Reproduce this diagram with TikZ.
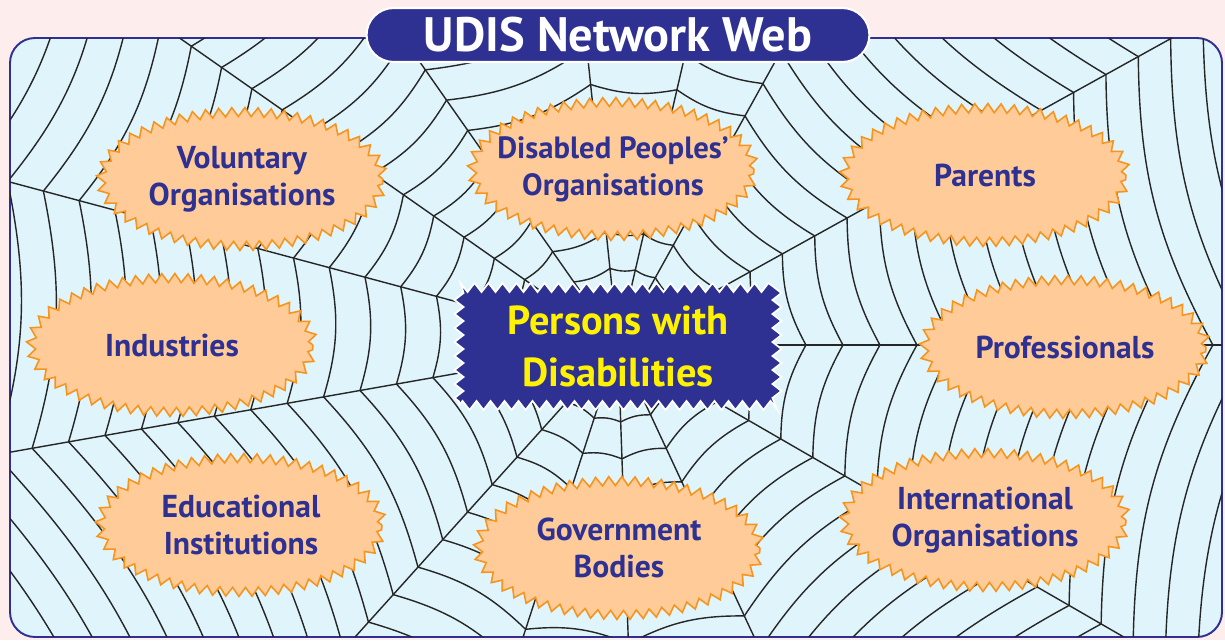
\documentclass[tikz,border=0pt]{standalone}
\usepackage{fontspec}
\setmainfont{PT Sans}
\usetikzlibrary{shapes.geometric,decorations.pathmorphing}
\definecolor{udisblue}{HTML}{2E3192}
\definecolor{webbg}{HTML}{E0F4FB}
\definecolor{pagepink}{HTML}{FDEDED}
\definecolor{peach}{HTML}{FFCC99}
\definecolor{zigorange}{HTML}{F7941D}
\definecolor{pwdyellow}{HTML}{FFF200}
\tikzset{
  member/.style={ellipse, fill=peach, draw=zigorange, line width=0.9pt,
    decorate, decoration={zigzag, segment length=0.26cm, amplitude=0.09cm},
    minimum width=5.64cm, minimum height=2.68cm, inner sep=0pt, align=center,
    text=udisblue, font=\bfseries\fontsize{18}{21}\selectfont},
  pwdbox/.style={rectangle, fill=udisblue, draw=white, line width=1pt,
    decorate, decoration={zigzag, segment length=0.28cm, amplitude=0.09cm},
    minimum width=6.36cm, minimum height=2.36cm, align=center,
    text=pwdyellow, font=\bfseries\fontsize{23}{29.5}\selectfont},
  titlepill/.style={rectangle, rounded corners=0.54cm, fill=udisblue, draw=white,
    line width=1.2pt, minimum width=10.06cm, minimum height=1.08cm,
    text=white, font=\bfseries\fontsize{27.5}{30}\selectfont},
  webline/.style={draw=black!85, line width=0.8pt},
}
\begin{document}
\begin{tikzpicture}[x=0.02cm, y=0.02cm]
\useasboundingbox (0,0) rectangle (1225,640);
\fill[pagepink] (0,0) rectangle (1225,640);
% web panel
\path[draw=udisblue, line width=1.1pt, fill=webbg, rounded corners=0.5cm]
  (10,3) rectangle (1222,602);
\coordinate (webc) at (618,295);
\begin{scope}
  \clip[rounded corners=0.5cm] (10,3) rectangle (1222,602);
  \begin{scope}[shift={(webc)}]
    % radials
    \foreach \a in {0,29,61,77,96,125,145,165,190,228,252,272,295,330}
      \draw[webline] (0,0) -- (\a:16cm);
    % rings
    \foreach \k in {1,...,18}{
      \pgfmathsetmacro\r{0.8+0.74*\k}
      \foreach \a/\b in {0/29,29/61,61/77,77/96,96/125,125/145,145/165,
                         165/190,190/228,228/252,252/272,272/295,295/330,330/360}
        \draw[webline] (\a:\r cm) to[bend left=14] (\b:\r cm);
    }
  \end{scope}
\end{scope}
% title
\node[titlepill] (title) at (618,605) {UDIS Network Web};
% centre
\node[pwdbox] (pwd) at (618,293.5) {Persons with\\Disabilities};
% members of the network
\node[member] (vol) at (242,461) {Voluntary\\Organisations};
\node[member, inner xsep=-0.6cm, font=\bfseries\fontsize{17.5}{21}\selectfont] (dpo) at (613,471) {Disabled Peoples’\\Organisations};
\node[member] (par) at (985,465) {Parents};
\node[member] (ind) at (172,295) {Industries};
\node[member] (pro) at (1065,293) {Professionals};
\node[member] (edu) at (241,115) {Educational\\Institutions};
\node[member] (gov) at (619,92) {Government\\Bodies};
\node[member] (int) at (985,120) {International\\Organisations};
\end{tikzpicture}
\end{document}
